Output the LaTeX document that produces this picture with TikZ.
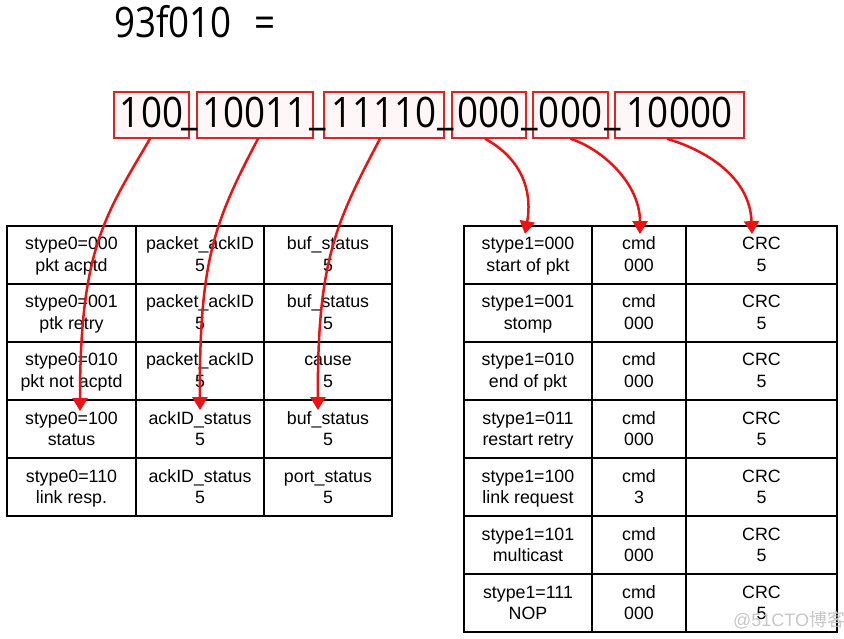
\documentclass[tikz,border=0pt]{standalone}
\usepackage{fontspec}
\usetikzlibrary{arrows.meta,calc}
\newfontfamily\bitfont[FakeStretch=0.875]{Open Sans}
\newfontfamily\cellfont{Liberation Sans}
\newfontfamily\cjkfont{Noto Sans CJK SC}
\definecolor{bitred}{RGB}{228,32,32}
\definecolor{arrred}{RGB}{236,18,18}
\begin{document}
\begin{tikzpicture}[x=1pt,y=-1pt,
  bitfnt/.style={font=\bitfont\fontsize{42}{42}\selectfont},
  bitbox/.style={bitfnt, draw=bitred, line width=1.5pt, fill=red!3, minimum height=46pt, inner sep=0pt, text height=30pt, text depth=4pt},
  cell/.style={draw=black, line width=1.8pt, inner sep=0pt, minimum height=58pt, align=center, text height=34.5pt, text depth=1.5pt, font=\cellfont\fontsize{17.8}{21.5}\selectfont},
  lcA/.style={cell, minimum width=129pt},
  lcB/.style={cell, minimum width=128pt},
  rcA/.style={cell, minimum width=128pt},
  rcB/.style={cell, minimum width=94pt},
  rcC/.style={cell, minimum width=151pt},
  arr/.style={draw=arrred, line width=2.5pt, -{Triangle[length=13pt,width=15pt]}}
]
\fill[white] (0,0) rectangle (844,639);
\useasboundingbox (0,0) rectangle (844,639);

% title
\node[bitfnt, anchor=base west, inner sep=0pt] (title) at (114,37.5) {93f010\hspace{13pt} =};

% bit groups
\node[bitbox, minimum width=75pt] (b1) at (151.5,115) {100};
\node[bitbox, minimum width=116pt] (b2) at (255,115) {10011};
\node[bitbox, minimum width=120pt] (b3) at (384,115) {11110};
\node[bitbox, minimum width=74pt] (b4) at (489,115) {000};
\node[bitbox, minimum width=75pt] (b5) at (570.5,115) {000};
\node[bitbox, minimum width=129pt] (b6) at (679.5,115) {10000};
\node[bitfnt, anchor=base, inner sep=0pt] (u1) at (190,125) {\_};
\node[bitfnt, anchor=base, inner sep=0pt] (u2) at (318,125) {\_};
\node[bitfnt, anchor=base, inner sep=0pt] (u3) at (446,125) {\_};
\node[bitfnt, anchor=base, inner sep=0pt] (u4) at (530,125) {\_};
\node[bitfnt, anchor=base, inner sep=0pt] (u5) at (613,125) {\_};

% left table
\node[lcA] (l11) at (71.5,255) {stype0=000\\pkt acptd};
\node[lcB] (l12) at (200,255) {packet\_ackID\\5};
\node[lcB] (l13) at (328,255) {buf\_status\\5};
\node[lcA] (l21) at (71.5,313) {stype0=001\\ptk retry};
\node[lcB] (l22) at (200,313) {packet\_ackID\\5};
\node[lcB] (l23) at (328,313) {buf\_status\\5};
\node[lcA] (l31) at (71.5,371) {stype0=010\\pkt not acptd};
\node[lcB] (l32) at (200,371) {packet\_ackID\\5};
\node[lcB] (l33) at (328,371) {cause\\5};
\node[lcA] (l41) at (71.5,429) {stype0=100\\status};
\node[lcB] (l42) at (200,429) {ackID\_status\\5};
\node[lcB] (l43) at (328,429) {buf\_status\\5};
\node[lcA] (l51) at (71.5,487) {stype0=110\\link resp.};
\node[lcB] (l52) at (200,487) {ackID\_status\\5};
\node[lcB] (l53) at (328,487) {port\_status\\5};

% right table
\node[rcA] (r11) at (528,255) {stype1=000\\start of pkt};
\node[rcB] (r12) at (639,255) {cmd\\000};
\node[rcC] (r13) at (761.5,255) {CRC\\5};
\node[rcA] (r21) at (528,313) {stype1=001\\stomp};
\node[rcB] (r22) at (639,313) {cmd\\000};
\node[rcC] (r23) at (761.5,313) {CRC\\5};
\node[rcA] (r31) at (528,371) {stype1=010\\end of pkt};
\node[rcB] (r32) at (639,371) {cmd\\000};
\node[rcC] (r33) at (761.5,371) {CRC\\5};
\node[rcA] (r41) at (528,429) {stype1=011\\restart retry};
\node[rcB] (r42) at (639,429) {cmd\\000};
\node[rcC] (r43) at (761.5,429) {CRC\\5};
\node[rcA] (r51) at (528,487) {stype1=100\\link request};
\node[rcB] (r52) at (639,487) {cmd\\3};
\node[rcC] (r53) at (761.5,487) {CRC\\5};
\node[rcA] (r61) at (528,545) {stype1=101\\multicast};
\node[rcB] (r62) at (639,545) {cmd\\000};
\node[rcC] (r63) at (761.5,545) {CRC\\5};
\node[rcA] (r71) at (528,603) {stype1=111\\NOP};
\node[rcB] (r72) at (639,603) {cmd\\000};
\node[rcC] (r73) at (761.5,603) {CRC\\5};

% arrows
\draw[arr] ([xshift=-1.5pt]b1.south) .. controls +(-45,77) and +(0,-162) .. ([xshift=8.5pt,yshift=-12pt]l41.north);
\draw[arr] ([xshift=3pt]b2.south) .. controls +(-43,82) and +(-1,-151) .. ([yshift=-11pt]l42.north);
\draw[arr] ([xshift=-4pt]b3.south) .. controls +(-43,82) and +(-1,-151) .. ([xshift=-10pt,yshift=-11pt]l43.north);
\draw[arr] ([xshift=-4pt]b4.south) .. controls +(35,19) and +(8,-45) .. ([xshift=-3pt,yshift=-9pt]r11.north);
\draw[arr] (b5.south) .. controls +(33,11) and +(0,-50) .. ([xshift=1pt,yshift=-9pt]r12.north);
\draw[arr] ([xshift=-12.5pt]b6.south) .. controls +(43,13) and +(-2,-55) .. ([xshift=-9.5pt,yshift=-9pt]r13.north);

% watermark
\node[anchor=base west, inner sep=0pt, text=black!22, font=\cellfont\fontsize{18}{18}\selectfont] (wm) at (733,626) {@51CTO{\cjkfont 博客}};
\end{tikzpicture}
\end{document}
